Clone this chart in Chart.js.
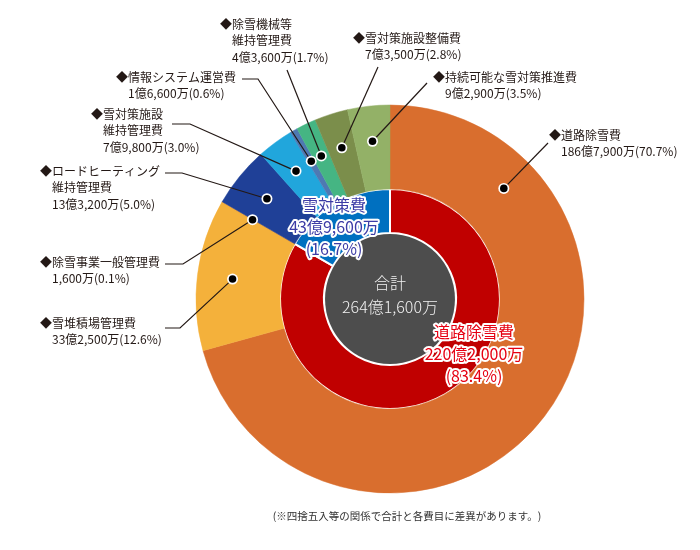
<!DOCTYPE html>
<html lang="ja">
<head>
<meta charset="utf-8">
<title>除雪費内訳</title>
<script src="https://cdn.jsdelivr.net/npm/chart.js@4.4.1/dist/chart.umd.min.js"></script>
<style>
    html, body { margin: 0; padding: 0; background: #fff; }
    #wrap { width: 700px; height: 550px; position: relative; }
</style>
</head>
<body>
<div id="wrap"><canvas id="snowChart" width="700" height="550"></canvas></div>
<script>
// Data (amounts in 万円)
const outerNames = [
    ['道路除雪費'],
    ['雪堆積場管理費'],
    ['除雪事業一般管理費'],
    ['ロードヒーティング', '維持管理費'],
    ['雪対策施設', '維持管理費'],
    ['情報システム運営費'],
    ['除雪機械等', '維持管理費'],
    ['雪対策施設整備費'],
    ['持続可能な雪対策推進費']
];
const outerValues = [1867900, 332500, 1600, 133200, 79800, 16600, 43600, 73500, 92900];
const outerPercents = [70.7, 12.6, 0.1, 5.0, 3.0, 0.6, 1.7, 2.8, 3.5];

const innerNames = ['道路除雪費', '雪対策費'];
const innerValues = [2202000, 439600];
const innerPercents = [83.4, 16.7];

const totalValue = 2641600;
const totalLabel = '合計';
const footnote = '(※四捨五入等の関係で合計と各費目に差異があります。)';

// Colours
const outerColors = ['#D96E2E', '#F4B13B', '#E89A35', '#1F4097', '#21A6DC', '#4E79B2', '#45B583', '#7B8E4B', '#93B167'];
const innerColors = ['#C00000', '#0070C0'];
const innerTextColors = ['#E60012', '#3C3CA6'];

// Label layout: left x, first line y, leader path (before the dot), dot position along segment
const labelLayout = [
    { x: 549, y: 135, path: [[548, 143]], at: 0.18 },
    { x: 40, y: 323, path: [[165, 328], [180, 328]], at: 0.5 },
    { x: 40, y: 262, path: [[165, 264], [183, 264]], at: 0.5 },
    { x: 40, y: 171, path: [[165, 173], [182, 173]], at: 0.5 },
    { x: 91, y: 114, path: [[172, 124], [190, 124]], at: 0.5 },
    { x: 116, y: 77, path: [[242, 79], [258, 79]], at: 0.5 },
    { x: 220, y: 24, path: [[287, 70]], at: 0.5 },
    { x: 353, y: 38, path: [[378, 67]], at: 0.5 },
    { x: 433, y: 77, path: [[427, 83]], at: 0.5 }
];
const innerLabelPos = [{ x: 474, y: 332 }, { x: 334, y: 205 }];

const FONT = '"Noto Sans CJK JP", "Noto Sans", sans-serif';

// 1867900 -> "186億7,900万"
const formatYen = (v) => {
    const oku = Math.floor(v / 10000);
    const man = v % 10000;
    let s = oku > 0 ? `${oku}億` : '';
    if (man > 0) s += `${man.toLocaleString('en-US')}万`;
    return s;
};

const drawOutlined = (ctx, text, x, y, color) => {
    ctx.lineJoin = 'round';
    ctx.lineWidth = 4;
    ctx.strokeStyle = '#fff';
    ctx.strokeText(text, x, y);
    ctx.fillStyle = color;
    ctx.fillText(text, x, y);
};

const annotations = {
    id: 'annotations',
    afterDatasetsDraw(chart) {
        const ctx = chart.ctx;
        const outerMeta = chart.getDatasetMeta(0);
        const innerMeta = chart.getDatasetMeta(1);
        const first = innerMeta.data[0].getProps(['x', 'y', 'innerRadius'], true);
        const cx = first.x, cy = first.y;

        ctx.save();

        // centre disc
        ctx.beginPath();
        ctx.arc(cx, cy, first.innerRadius - 1, 0, Math.PI * 2);
        ctx.fillStyle = '#4D4D4D';
        ctx.fill();
        ctx.textAlign = 'center';
        ctx.textBaseline = 'middle';
        ctx.font = `300 16px ${FONT}`;
        ctx.fillStyle = '#F2F2F2';
        ctx.fillText(totalLabel, cx, cy - 16);
        ctx.fillText(formatYen(totalValue), cx, cy + 8);

        // leaders and outer labels
        outerMeta.data.forEach((arc, i) => {
            const p = arc.getProps(['startAngle', 'endAngle', 'innerRadius', 'outerRadius'], true);
            const lay = labelLayout[i];
            const ang = p.startAngle + (p.endAngle - p.startAngle) * lay.at;
            const r = p.innerRadius + (p.outerRadius - p.innerRadius) * 0.58;
            const dx = cx + Math.cos(ang) * r;
            const dy = cy + Math.sin(ang) * r;

            ctx.beginPath();
            ctx.moveTo(lay.path[0][0], lay.path[0][1]);
            lay.path.slice(1).forEach(pt => ctx.lineTo(pt[0], pt[1]));
            ctx.lineTo(dx, dy);
            ctx.strokeStyle = '#231815';
            ctx.lineWidth = 1.2;
            ctx.stroke();

            ctx.beginPath();
            ctx.arc(dx, dy, 5.5, 0, Math.PI * 2);
            ctx.fillStyle = '#fff';
            ctx.fill();
            ctx.beginPath();
            ctx.arc(dx, dy, 3.8, 0, Math.PI * 2);
            ctx.fillStyle = '#000';
            ctx.fill();

            ctx.textAlign = 'left';
            ctx.textBaseline = 'middle';
            ctx.font = `12px ${FONT}`;
            ctx.fillStyle = '#231815';
            const lines = outerNames[i].slice();
            lines.push(`${formatYen(outerValues[i])}(${outerPercents[i].toFixed(1)}%)`);
            lines.forEach((t, k) => {
                const tx = k === 0 ? lay.x : lay.x + 12;
                ctx.fillText(k === 0 ? '◆' + t : t, tx, lay.y + k * 16.8);
            });
        });

        // inner labels
        ctx.textAlign = 'center';
        ctx.font = `16px ${FONT}`;
        innerNames.forEach((name, i) => {
            const pos = innerLabelPos[i];
            const c = innerTextColors[i];
            drawOutlined(ctx, name, pos.x, pos.y, c);
            drawOutlined(ctx, formatYen(innerValues[i]), pos.x, pos.y + 22, c);
            drawOutlined(ctx, `(${innerPercents[i].toFixed(1)}%)`, pos.x, pos.y + 44, c);
        });

        // footnote
        ctx.font = `10.5px ${FONT}`;
        ctx.fillStyle = '#333';
        ctx.textBaseline = 'middle';
        ctx.fillText(footnote, 407, 516);

        ctx.restore();
    }
};

new Chart(document.getElementById('snowChart'), {
    type: 'doughnut',
    data: {
        labels: outerNames.map(n => n.join('')),
        datasets: [
            {
                data: outerValues,
                backgroundColor: outerColors,
                borderColor: outerColors,
                borderWidth: 0.5,
                weight: 84
            },
            {
                data: innerValues,
                backgroundColor: innerColors,
                borderColor: '#fff',
                borderWidth: 2,
                weight: 44
            }
        ]
    },
    options: {
        responsive: false,
        animation: false,
        radius: 194,
        cutout: '34%',
        layout: { padding: { left: 200, right: 120, top: 100, bottom: 52 } },
        plugins: {
            legend: { display: false },
            tooltip: { enabled: false }
        }
    },
    plugins: [annotations]
});
</script>
</body>
</html>
